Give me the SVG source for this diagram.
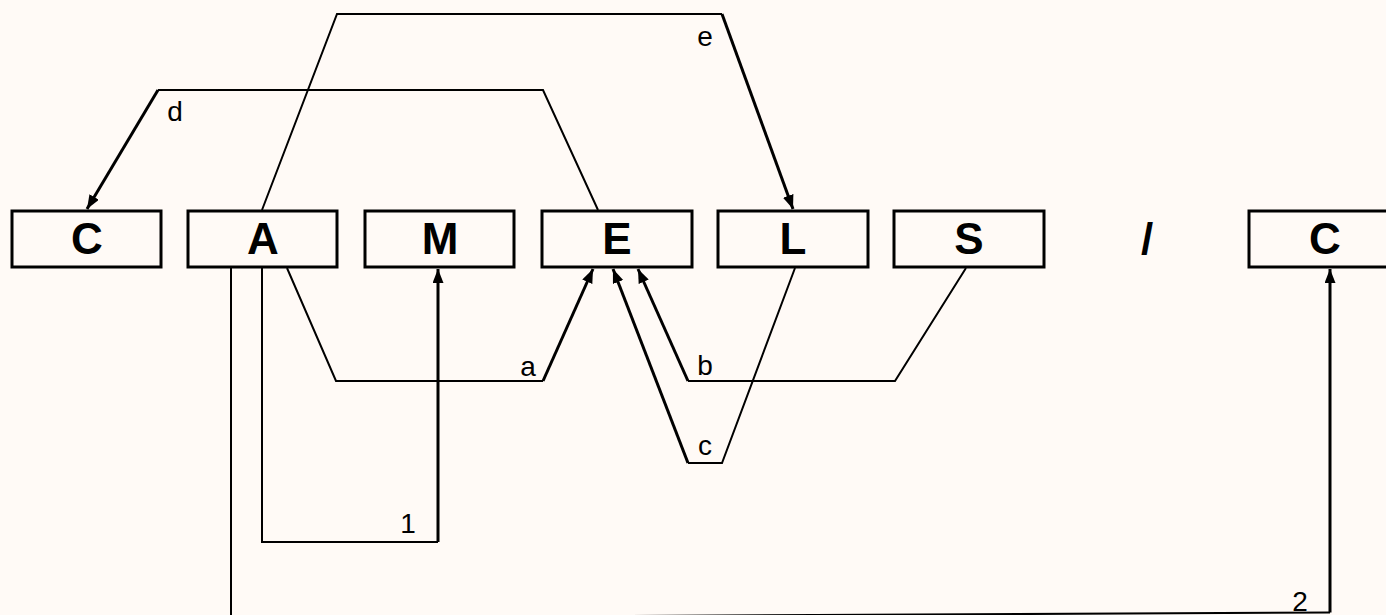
<svg xmlns="http://www.w3.org/2000/svg" width="1386" height="615" viewBox="0 0 1386 615">
<style>
.box{fill:none;stroke:#000;stroke-width:3}
.lt{font-family:"Liberation Sans",Arial,sans-serif;font-weight:bold;font-size:44px;text-anchor:middle;fill:#000}
.lbl{font-family:"Liberation Sans",Arial,sans-serif;font-size:28px;text-anchor:middle;fill:#000}
.ln{fill:none;stroke:#000;stroke-width:2;stroke-linejoin:miter}
.ar{fill:none;stroke:#000;stroke-width:3}
</style>
<defs>
<marker id="ah" markerUnits="userSpaceOnUse" markerWidth="15" markerHeight="12" refX="14" refY="5.5" orient="auto">
<path d="M0,0 L14,5.5 L0,11 z" fill="#000"/>
</marker>
</defs>
<rect x="0" y="0" width="1386" height="615" fill="#FFFAF6"/>
<g id="node-C1"><rect class="box" x="12" y="211" width="149" height="56"/><text class="lt" x="87" y="254">C</text></g>
<g id="node-A"><rect class="box" x="188" y="211" width="149" height="56"/><text class="lt" x="263" y="254">A</text></g>
<g id="node-M"><rect class="box" x="365" y="211" width="149" height="56"/><text class="lt" x="440" y="254">M</text></g>
<g id="node-E"><rect class="box" x="542" y="211" width="150" height="56"/><text class="lt" x="617" y="254">E</text></g>
<g id="node-L"><rect class="box" x="718" y="211" width="150" height="56"/><text class="lt" x="793" y="254">L</text></g>
<g id="node-S"><rect class="box" x="894" y="211" width="150" height="56"/><text class="lt" x="969" y="254">S</text></g>
<g id="node-slash"><text class="lt" x="1147" y="254">/</text></g>
<g id="node-C2"><rect class="box" x="1249" y="211" width="150" height="56"/><text class="lt" x="1325" y="254">C</text></g>
<g id="connectors">
<polyline class="ln" points="262,210 337,14 722,14"/>
<line class="ar" x1="722" y1="14" x2="793" y2="209" marker-end="url(#ah)"/>
<text class="lbl" x="705" y="46">e</text>
<polyline class="ln" points="598,210 543,90 158,90"/>
<line class="ar" x1="158" y1="90" x2="87" y2="209" marker-end="url(#ah)"/>
<text class="lbl" x="175" y="121">d</text>
<polyline class="ln" points="287,268 336,381 543,381"/>
<line class="ar" x1="543" y1="381" x2="593" y2="269" marker-end="url(#ah)"/>
<text class="lbl" x="528" y="376">a</text>
<polyline class="ln" points="262,268 262,542 438,542"/>
<line class="ar" x1="438" y1="542" x2="438" y2="269" marker-end="url(#ah)"/>
<text class="lbl" x="408" y="533">1</text>
<polyline class="ln" points="966,268 895,381 688,381"/>
<line class="ar" x1="688" y1="381" x2="638" y2="269" marker-end="url(#ah)"/>
<text class="lbl" x="705" y="375">b</text>
<polyline class="ln" points="795,268 722,463 688,463"/>
<line class="ar" x1="688" y1="463" x2="613" y2="269" marker-end="url(#ah)"/>
<text class="lbl" x="705" y="455">c</text>
<polyline class="ln" points="231,268 231,618 1330,612.5"/>
<line class="ar" x1="1330" y1="612.5" x2="1330" y2="269" marker-end="url(#ah)"/>
<text class="lbl" x="1300" y="611">2</text>
</g>
</svg>
